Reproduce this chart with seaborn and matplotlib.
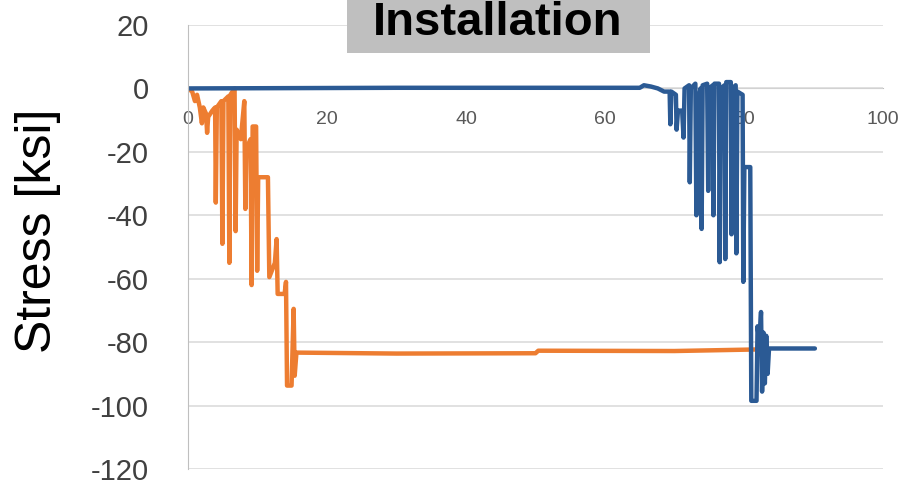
import matplotlib
matplotlib.use("Agg")
import matplotlib.pyplot as plt
from matplotlib.patches import Rectangle
import pandas as pd
import seaborn as sns

sns.set_style("white")
plt.rcParams["font.family"] = ["Liberation Sans", "DejaVu Sans"]
plt.rcParams["axes.unicode_minus"] = False

# Gauge 1 (orange): loads up early during installation, then holds
orange_x = [0.0, 0.6, 1.0, 1.3, 1.7, 2.0, 2.2, 2.6, 2.75, 2.9,
            3.5, 3.9, 4.0, 4.15, 4.8, 4.95, 5.1, 5.8, 5.95, 6.1,
            6.7, 6.85, 7.0, 7.6, 8.1, 8.25, 8.4, 9.0, 9.15, 9.3,
            9.8, 9.95, 10.1, 11.5, 11.7, 12.5, 12.75, 12.9, 13.9, 14.1,
            14.25, 14.9, 15.2, 15.35, 15.6, 30.0, 50.0, 50.4, 70.0, 82.0]
orange_y = [0.0, -1.0, -4.0, -2.0, -6.0, -11.0, -6.0, -8.0, -14.0, -9.0,
            -7.0, -6.0, -36.0, -6.0, -4.0, -49.0, -4.0, -2.5, -55.0, -2.0,
            0.0, -45.0, -13.0, -16.0, -4.0, -38.0, -19.0, -16.0, -62.0, -12.0,
            -12.0, -57.5, -28.0, -28.0, -59.5, -55.0, -47.5, -64.8, -64.8, -61.0,
            -93.7, -93.7, -69.5, -90.6, -83.3, -83.6, -83.5, -82.7, -82.8, -82.3]

# Gauge 2 (blue): idle until late in the sequence, then loads up
blue_x = [0.0, 30.0, 65.0, 65.6, 66.6, 67.6, 68.5, 69.3, 69.4, 69.55,
          70.2, 70.3, 70.5, 71.1, 71.3, 71.45, 72.1, 72.2, 72.35, 73.0,
          73.15, 73.3, 73.75, 73.9, 74.05, 74.7, 74.85, 75.0, 75.5, 75.6,
          75.75, 76.4, 76.5, 76.65, 77.2, 77.3, 77.45, 78.1, 78.2, 78.35,
          78.8, 78.9, 79.05, 79.8, 79.9, 80.05, 80.9, 81.05, 81.8, 81.95,
          82.2, 82.45, 82.6, 82.8, 83.0, 83.2, 83.4, 83.6, 90.2]
blue_y = [0.0, 0.2, 0.2, 1.0, 0.6, 0.0, -1.0, -1.0, -11.3, -1.0,
          -2.0, -13.0, -7.0, -7.0, -15.5, 0.0, 1.0, -29.6, 0.0, 1.5,
          -40.0, -5.0, 0.0, -44.3, 1.0, 1.5, -32.3, 0.0, 1.0, -40.0,
          1.5, 1.5, -54.8, 0.0, 1.0, -53.8, 2.0, 2.0, -46.0, 0.0,
          1.0, -52.0, -1.0, -2.0, -61.0, -24.8, -24.8, -98.5, -98.5, -75.0,
          -80.0, -70.5, -95.6, -77.0, -93.0, -78.0, -90.0, -82.0, -82.0]

x_ticks = [0, 20, 40, 60, 80, 100]
y_ticks = [20, 0, -20, -40, -60, -80, -100, -120]
title_text = "Installation"
y_label = "Stress [ksi]"

W, H = 908, 487
fig = plt.figure(figsize=(W / 100, H / 100), dpi=100)
ax = fig.add_axes([188 / W, 1 - 469 / H, (883 - 188) / W, (469 - 25) / H])

df_orange = pd.DataFrame({"t": orange_x, "stress": orange_y})
df_blue = pd.DataFrame({"t": blue_x, "stress": blue_y})
sns.lineplot(data=df_orange, x="t", y="stress", sort=False, estimator=None,
             color="#ED7D31", lw=3.2, ax=ax)
sns.lineplot(data=df_blue, x="t", y="stress", sort=False, estimator=None,
             color="#2B5A94", lw=3.2, ax=ax)

ax.set_xlim(0, 100)
ax.set_ylim(-120, 20)
ax.set_xticks(x_ticks)
ax.set_yticks(y_ticks)
ax.set_xlabel("")
ax.set_ylabel("")
ax.grid(axis="y", color="#d9d9d9", lw=1.1)
ax.grid(axis="x", visible=False)
ax.set_axisbelow(True)

for side in ("top", "right"):
    ax.spines[side].set_visible(False)
ax.spines["bottom"].set_position(("data", 0))
ax.spines["bottom"].set_color("#bfbfbf")
ax.spines["left"].set_color("#bfbfbf")
ax.spines["bottom"].set_zorder(0.5)

ax.tick_params(axis="x", direction="out", length=5, width=1, color="#bfbfbf",
               labelsize=14, labelcolor="#595959", pad=11)
ax.tick_params(axis="y", direction="out", length=10, width=1, color="#bfbfbf",
               labelsize=21, labelcolor="#404040", pad=18)

fig.text(38 / W, 1 - 231 / H, y_label, rotation=90, ha="center", va="center",
         fontsize=36, color="black")

fig.add_artist(Rectangle((347 / W, 1 - 53 / H), (650 - 347) / W, 53 / H + 0.01,
                         transform=fig.transFigure, facecolor="#bfbfbf",
                         edgecolor="none", zorder=5))
fig.text(498 / W, 1 - 35 / H, title_text, ha="center", va="baseline",
         fontsize=34, fontweight="bold", color="black", zorder=6)

fig.savefig("out.png", dpi=100)
